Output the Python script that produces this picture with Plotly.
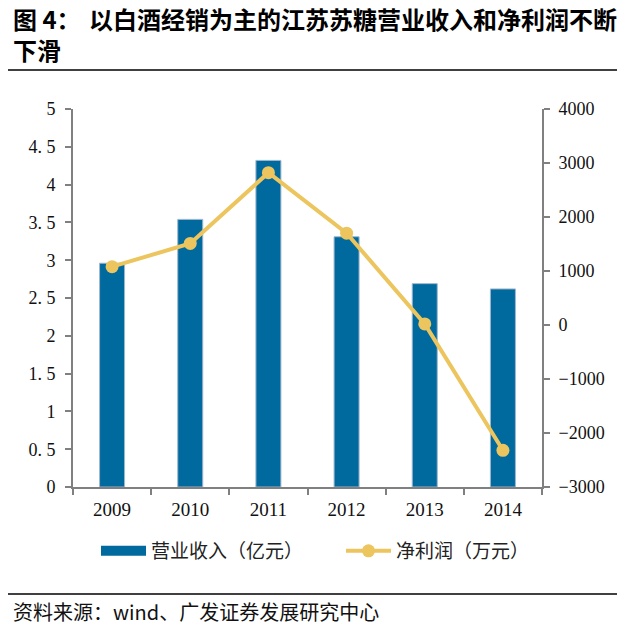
import plotly.graph_objects as go

years = ["2009", "2010", "2011", "2012", "2013", "2014"]
revenue = [2.96, 3.54, 4.32, 3.31, 2.69, 2.62]          # 营业收入（亿元）
net_profit = [1080, 1510, 2820, 1700, 20, -2320]        # 净利润（万元）
left_ticks = [0, 0.5, 1, 1.5, 2, 2.5, 3, 3.5, 4, 4.5, 5]
left_ticktext = ["0", "0. 5", "1", "1. 5", "2", "2. 5", "3", "3. 5", "4", "4. 5", "5"]
right_ticks = [-3000, -2000, -1000, 0, 1000, 2000, 3000, 4000]

BLUE = "#00699E"
GOLD = "#ECC55E"
AXIS = "#808080"
OFF = 8  # page body margin
W, H = 635 - OFF, 629 - OFF
PL, PR, PT, PB = 73, 542, 109, 487  # plot area in window pixels
ML, MR, MT, MB = PL - OFF, 635 - PR, PT - OFF, 629 - PB
PW, PH = PR - PL, PB - PT

def px(x):
    return (x - PL) / PW

def py(y):
    return (PB - y) / PH

fig = go.Figure()
fig.add_trace(go.Bar(
    x=years, y=revenue, name="营业收入（亿元）",
    marker=dict(color=BLUE, line=dict(color="#9fb7cc", width=1)),
    showlegend=False, yaxis="y"))
fig.add_trace(go.Scatter(
    x=[None], y=[None], mode="lines", name="营业收入（亿元）",
    line=dict(color=BLUE, width=10), yaxis="y", legend="legend"))
fig.add_trace(go.Scatter(
    x=years, y=net_profit, name="净利润（万元）", mode="lines+markers",
    line=dict(color=GOLD, width=4), marker=dict(color=GOLD, size=13), yaxis="y2",
    legend="legend2"))

serif = "Liberation Serif"
cjk = "Noto Sans CJK SC"
LFONT = dict(family=cjk, size=19, color="#222")

fig.update_layout(
    width=W, height=H,
    margin=dict(l=ML, r=MR, t=MT, b=MB),
    paper_bgcolor="white", plot_bgcolor="white",
    bargap=0.68,
    showlegend=True,
    legend=dict(orientation="h", x=px(96), y=py(551), xanchor="left", yanchor="middle",
                font=LFONT, itemwidth=45, bgcolor="rgba(0,0,0,0)"),
    legend2=dict(orientation="h", x=px(341), y=py(551), xanchor="left", yanchor="middle",
                 font=LFONT, itemwidth=45, bgcolor="rgba(0,0,0,0)"),
    xaxis=dict(type="category", range=[-0.5, 5.5], showline=True, linecolor=AXIS, linewidth=2,
               ticks="outside", tickson="boundaries", ticklen=6, tickcolor=AXIS, tickwidth=2,
               ticklabelstandoff=4,
               tickfont=dict(family=serif, size=19, color="#111"), showgrid=False),
    yaxis=dict(range=[0, 5], tickvals=left_ticks, ticktext=left_ticktext, showline=True,
               linecolor=AXIS, linewidth=2, ticks="outside", ticklen=6, tickcolor=AXIS, tickwidth=2,
               ticklabelstandoff=6,
               tickfont=dict(family=serif, size=18, color="#111"), showgrid=False, zeroline=False),
    yaxis2=dict(range=[-3000, 4000], tickvals=right_ticks, overlaying="y", side="right",
                showline=True, linecolor=AXIS, linewidth=2, ticks="outside", ticklen=6,
                tickcolor=AXIS, tickwidth=2, ticklabelstandoff=5,
                tickfont=dict(family=serif, size=18, color="#111"),
                showgrid=False, zeroline=False),
)

TFONT = dict(family=cjk, size=24, color="#000")
# Title (label + wrapped second line in one block, main text on the first line)
fig.add_annotation(text="<b>图 4：</b><br><b>下滑</b>", x=px(11), y=py(34), xref="paper", yref="paper",
                   xanchor="left", yanchor="middle", align="left", showarrow=False, font=TFONT)
fig.add_annotation(text="<b>以白酒经销为主的江苏苏糖营业收入和净利润不断</b>", x=px(87), y=py(19),
                   xref="paper", yref="paper", xanchor="left", yanchor="middle", showarrow=False,
                   font=TFONT)
# Source
fig.add_annotation(text="资料来源：wind、广发证券发展研究中心", x=px(11), y=py(611), xref="paper",
                   yref="paper", xanchor="left", yanchor="middle", showarrow=False,
                   font=dict(family=cjk, size=20, color="#111"))

fig.add_shape(type="line", xref="paper", yref="paper", x0=px(OFF), x1=px(617), y0=py(70), y1=py(70),
              line=dict(color="#000", width=1.5))
fig.add_shape(type="line", xref="paper", yref="paper", x0=px(OFF), x1=px(617), y0=py(594), y1=py(594),
              line=dict(color="#000", width=1.5))

fig.write_html("out.html")
